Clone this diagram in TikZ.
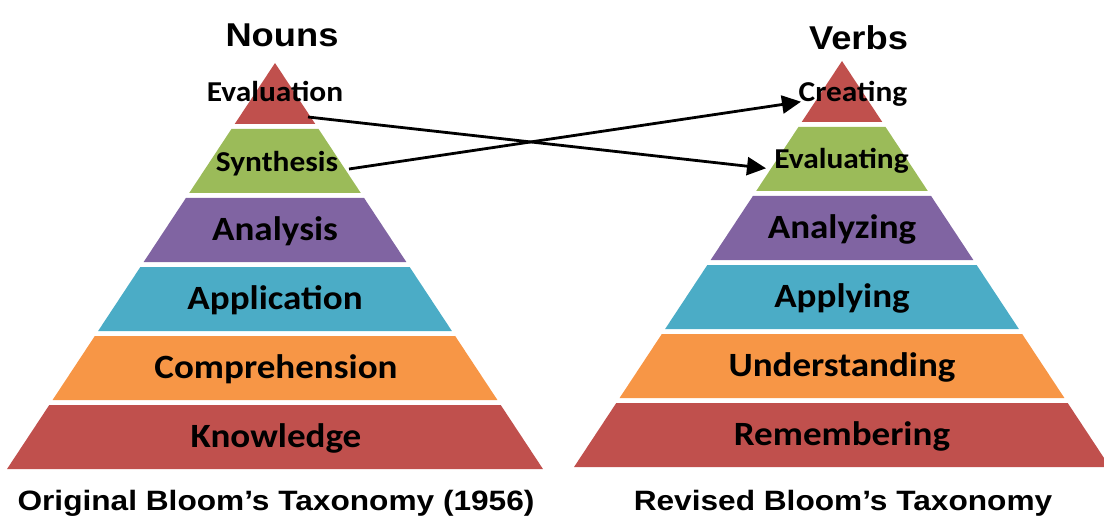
\documentclass[tikz,border=0pt]{standalone}
\usepackage{fontspec}
\usetikzlibrary{arrows.meta}
\newfontfamily\labfont{Carlito}[FakeStretch=1.09]
\newfontfamily\headfont{Liberation Sans}[FakeStretch=1.1]
\newfontfamily\capfont{Liberation Sans}[FakeStretch=1.13]
\definecolor{bred}{HTML}{C0504D}
\definecolor{bgreen}{HTML}{9BBB59}
\definecolor{bpurple}{HTML}{8064A2}
\definecolor{baqua}{HTML}{4BACC6}
\definecolor{borange}{HTML}{F79646}
% #1 centre x, #2 apex y, #3 top y, #4 bottom y, #5 colour
\newcommand{\pyrband}[5]{%
  \fill[#5] ({#1-0.66*(#3-#2)},#3) -- ({#1+0.66*(#3-#2)},#3) --
    ({#1+0.66*(#4-#2)},#4) -- ({#1-0.66*(#4-#2)},#4) -- cycle;}
\tikzset{
  biglab/.style={font=\labfont\bfseries\fontsize{34}{40}\selectfont, anchor=base, inner sep=0pt},
  smalllab/.style={font=\labfont\bfseries\fontsize{28.8}{34}\selectfont, anchor=base, inner sep=0pt},
  headlab/.style={font=\headfont\bfseries\fontsize{33}{38}\selectfont, anchor=base, inner sep=0pt},
  captlab/.style={font=\capfont\bfseries\fontsize{28}{33}\selectfont, anchor=base, inner sep=0pt},
  conn/.style={line width=2.8pt, -{Triangle[length=19pt,width=18pt]}}
}
\begin{document}
\begin{tikzpicture}[x=1pt,y=-1pt]
\useasboundingbox (0,0) rectangle (1104,516);
% left pyramid
\pyrband{275}{63}{63}{124}{bred}
\pyrband{275}{63}{129}{193}{bgreen}
\pyrband{275}{63}{198}{262}{bpurple}
\pyrband{275}{63}{267}{331}{baqua}
\pyrband{275}{63}{336}{400}{borange}
\pyrband{275}{63}{405}{469}{bred}
% right pyramid
\pyrband{842}{61}{61}{122}{bred}
\pyrband{842}{61}{127}{191}{bgreen}
\pyrband{842}{61}{196}{260}{bpurple}
\pyrband{842}{61}{265}{329}{baqua}
\pyrband{842}{61}{334}{398}{borange}
\pyrband{842}{61}{403}{467}{bred}
% titles
\node[headlab] (nouns) at (282,46.7) {Nouns};
\node[headlab] (verbs) at (858.5,49.3) {Verbs};
\node[captlab] (orig) at (276,510) {Original Bloom’s Taxonomy (1956)};
\node[captlab] (rev) at (843,510) {Revised Bloom’s Taxonomy};
% connector ends
\coordinate (evalR) at (308,117);
\coordinate (synR) at (349,169);
\coordinate (evgL) at (766,168.3);
\coordinate (creL) at (801,101.7);
\draw[conn] (evalR) -- (evgL);
\draw[conn] (synR) -- (creL);
% left labels
\node[smalllab] (evaluation) at (275,101.7) {Evaluation};
\node[smalllab] (synthesis) at (277,171.5) {Synthesis};
\node[biglab] (analysis) at (275,240.5) {Analysis};
\node[biglab] (application) at (275,309.5) {Application};
\node[biglab] (comprehension) at (276,378.5) {Comprehension};
\node[biglab] (knowledge) at (276,447) {Knowledge};
% right labels
\node[smalllab] (creating) at (853,101.7) {Creating};
\node[smalllab] (evaluating) at (841.5,168.3) {Evaluating};
\node[biglab] (analyzing) at (842,238.5) {Analyzing};
\node[biglab] (applying) at (842,307.5) {Applying};
\node[biglab] (understanding) at (842,376.5) {Understanding};
\node[biglab] (remembering) at (842,445) {Remembering};
\end{tikzpicture}
\end{document}
